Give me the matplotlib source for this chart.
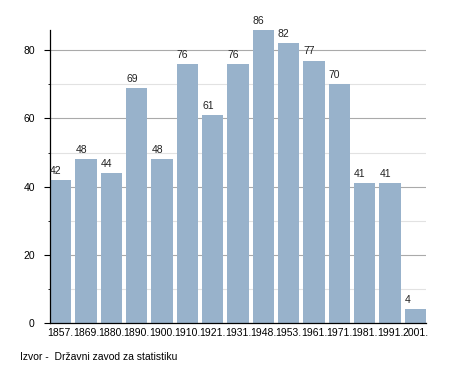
import numpy as np
import matplotlib.pyplot as plt
from matplotlib.ticker import MultipleLocator

plt.rcParams['font.family'] = ['Liberation Sans', 'DejaVu Sans']

godine = ['1857.', '1869.', '1880.', '1890.', '1900.', '1910.', '1921.', '1931.',
          '1948.', '1953.', '1961.', '1971.', '1981.', '1991.', '2001.']
stanovnici = [42, 48, 44, 69, 48, 76, 61, 76, 86, 82, 77, 70, 41, 41, 4]

BAR_W = 0.84
x = np.arange(len(godine))

fig = plt.figure(figsize=(4.55, 3.73), dpi=100)
ax = fig.add_axes([0.110, 0.134, 0.826, 0.786])

ax.bar(x, stanovnici, width=BAR_W, color='#98b2cb', zorder=2)
for xi, v in zip(x, stanovnici):
    ax.text(xi - BAR_W / 2, v + 1.2, str(v), ha='left', va='bottom',
            fontsize=7.5, color='#222222')

ax.set_xlim(-BAR_W / 2, len(godine) - 1 + BAR_W / 2)
ax.set_ylim(0, max(stanovnici))
ax.yaxis.set_major_locator(MultipleLocator(20))
ax.yaxis.set_minor_locator(MultipleLocator(10))
ax.grid(axis='y', which='major', color='#aaaaaa', linewidth=0.8, zorder=0)
ax.grid(axis='y', which='minor', color='#e2e2e2', linewidth=0.8, zorder=0)
ax.set_axisbelow(True)

ax.set_xticks(x)
ax.set_xticklabels(godine)
ax.tick_params(axis='x', length=0, labelsize=7.5, pad=3.5)
ax.tick_params(axis='y', which='major', length=4.5, labelsize=7.5, pad=6.5)
ax.tick_params(axis='y', which='minor', length=1.8)

for s in ['top', 'right']:
    ax.spines[s].set_visible(False)
ax.spines['left'].set_linewidth(0.9)
ax.spines['bottom'].set_linewidth(0.9)

fig.text(0.044, 0.03, 'Izvor -  Državni zavod za statistiku', fontsize=7.5,
         ha='left', va='bottom')

fig.savefig('out.png', dpi=100)
